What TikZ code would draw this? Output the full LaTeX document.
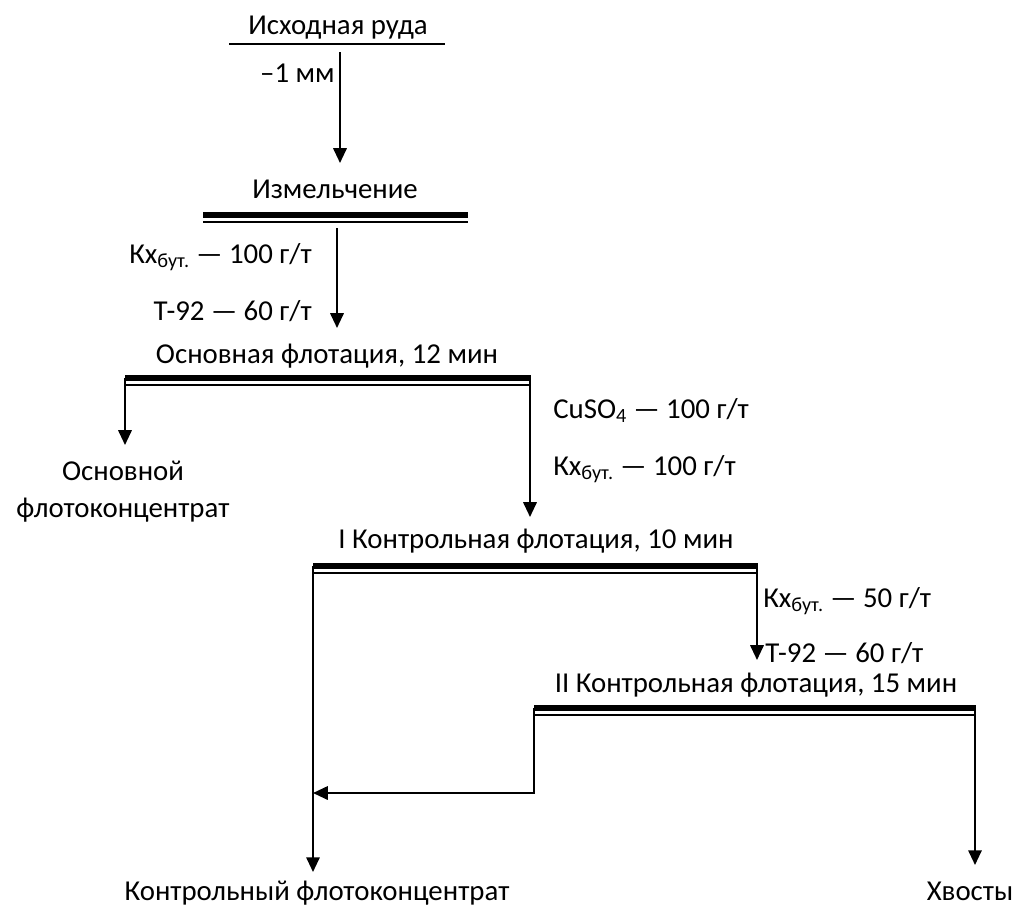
\documentclass[tikz,border=0pt]{standalone}
\usepackage{fontspec}
\setmainfont{Carlito}
\usetikzlibrary{arrows.meta}

\tikzset{
  txt/.style={inner sep=0pt, font=\fontsize{20.5}{26}\selectfont},
  flow/.style={line width=1.5pt, -{Triangle[length=10.5pt,width=9.5pt]}},
  link/.style={line width=1.5pt},
  barthick/.style={line width=3.6pt},
  barthin/.style={line width=1.2pt},
}

\begin{document}
\begin{tikzpicture}[x=0.025cm, y=-0.025cm]
\useasboundingbox (0,0) rectangle (1019,910);

% stages
\node[txt, anchor=base] (ore) at (338,34) {Исходная руда};
\node[txt, anchor=base] (grind) at (335,198) {Измельчение};
\node[txt, anchor=base] (rough) at (327,363) {Основная флотация, 12 мин};
\node[txt, anchor=base] (scav1) at (536,548) {I Контрольная флотация, 10 мин};
\node[txt, anchor=base] (scav2) at (756,692) {II Контрольная флотация, 15 мин};

% products
\node[txt, anchor=base, align=center] (roughconc) at (123,517) {Основной\\флотоконцентрат};
\node[txt, anchor=base] (scavconc) at (317,900) {Контрольный флотоконцентрат};
\node[txt, anchor=base] (tails) at (970,900) {Хвосты};

% reagents
\node[txt, anchor=base east] (size) at (335,82) {–1 мм};
\node[txt, anchor=base east] (xan1) at (312,263) {Кх\textsubscript{бут.} — 100 г/т};
\node[txt, anchor=base east] (frot1) at (312,320) {Т-92 — 60 г/т};
\node[txt, anchor=base west] (cuso) at (553,418) {CuSO\textsubscript{4} — 100 г/т};
\node[txt, anchor=base west] (xan2) at (553,475) {Кх\textsubscript{бут.} — 100 г/т};
\node[txt, anchor=base west] (xan3) at (763,607) {Кх\textsubscript{бут.} — 50 г/т};
\node[txt, anchor=base west] (frot2) at (765,662) {Т-92 — 60 г/т};

% bar ends
\coordinate (oreL) at (229,44);
\coordinate (oreR) at (445,44);
\coordinate (grindL) at (203,215);
\coordinate (grindR) at (467,215);
\coordinate (roughL) at (125,378);
\coordinate (roughR) at (530,378);
\coordinate (scav1L) at (313,566);
\coordinate (scav1R) at (757,566);
\coordinate (scav2L) at (534,708);
\coordinate (scav2R) at (975,708);

\draw[link] (oreL) -- (oreR);
\foreach \s/\e in {grindL/grindR, roughL/roughR, scav1L/scav1R, scav2L/scav2R}{
  \draw[barthick] (\s) -- ([xshift=1pt]\e);
  \draw[barthin] ([yshift=-5pt]\s) -- ([yshift=-5pt, xshift=1pt]\e);
}

% flows
\coordinate (oreOut) at (340,52);
\coordinate (grindIn) at (340,163);
\coordinate (grindOut) at (337,228);
\coordinate (roughIn) at (337,328);
\coordinate (rcIn) at (125,445);
\coordinate (scav1In) at (530,517);
\coordinate (scav2In) at (757,660);
\coordinate (scIn) at (313,872);
\coordinate (backEnd) at (313,793);
\coordinate (tailIn) at (975,865);

\draw[flow] (oreOut) -- (grindIn);
\draw[flow] (grindOut) -- (roughIn);
\draw[flow] (roughL) -- (rcIn);
\draw[flow] (roughR) -- (scav1In);
\draw[flow] (scav1L) -- (scIn);
\draw[flow] (scav1R) -- (scav2In);
\draw[flow] (scav2L) -- (scav2L |- backEnd) -- (backEnd);
\draw[flow] (scav2R) -- (tailIn);

\end{tikzpicture}
\end{document}
